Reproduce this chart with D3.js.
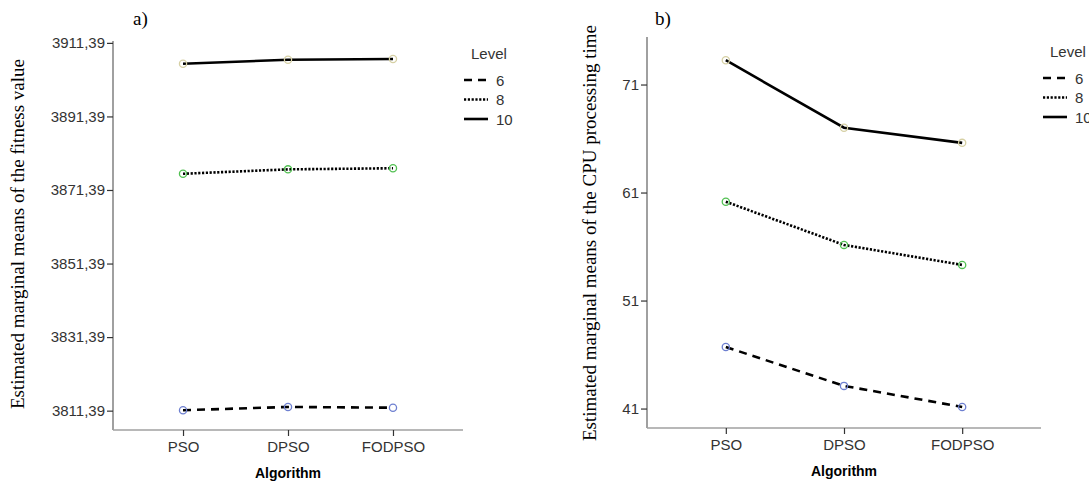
<!DOCTYPE html>
<meta charset="utf-8">
<style>
body { margin: 0; background: #fff; }
.tick text, .legend text { font-family: "Liberation Sans", Arial, sans-serif; fill: #333; }
.ytitle { font-family: "Liberation Serif", "Times New Roman", serif; font-size: 19px; fill: #000; }
.panel { font-family: "Liberation Serif", "Times New Roman", serif; font-size: 19px; fill: #000; }
.xtitle { font-family: "Liberation Sans", Arial, sans-serif; font-size: 14px; font-weight: bold; fill: #000; }
</style>
<svg width="1089" height="482"></svg>
<script src="https://d3js.org/d3.v7.min.js"></script>
<script>

var algorithms = ["PSO", "DPSO", "FODPSO"];
var levels = ["6", "8", "10"];

// a) fitness value, one array per level (PSO, DPSO, FODPSO)
var fitness6  = [3811.5, 3812.4, 3812.2];
var fitness8  = [3875.8, 3877.0, 3877.3];
var fitness10 = [3905.7, 3906.8, 3907.0];
var fitnessTicks = [3811.39, 3831.39, 3851.39, 3871.39, 3891.39, 3911.39];

// b) CPU processing time
var cpu6  = [46.7, 43.1, 41.15];
var cpu8  = [60.15, 56.15, 54.3];
var cpu10 = [73.25, 67.0, 65.6];
var cpuTicks = [41, 51, 61, 71];

var dashes = {"6": "8,6", "8": "2.2,1.6", "10": null};
var markerColor = {"6": "#6d7fd0", "8": "#52c052", "10": "#d6d0a4"};

var svg = d3.select("svg");

function drawPanel(opt) {
  var x = d3.scalePoint().domain(algorithms).range([opt.x0, opt.x1]).padding(0.667);
  var y = d3.scaleLinear().domain(opt.domain).range([opt.y1, opt.y0]);

  // y axis
  var yAxis = svg.append("g").attr("transform", "translate(" + opt.x0 + ",0)")
    .call(d3.axisLeft(y).tickValues(opt.ticks).tickSize(6).tickPadding(2)
      .tickFormat(opt.fmt));
  yAxis.select(".domain").attr("stroke", "#a0a0a0").attr("stroke-width", 2).attr("d", "M0," + opt.y0 + "V" + opt.y1);
  yAxis.selectAll(".tick line").attr("stroke", "#333").attr("stroke-width", 1.2);
  yAxis.selectAll(".tick text").attr("font-size", 15);

  // x axis
  var xAxis = svg.append("g").attr("transform", "translate(0," + opt.y1 + ")")
    .call(d3.axisBottom(x).tickSize(6).tickPadding(5));
  xAxis.select(".domain").attr("stroke", "#a0a0a0").attr("stroke-width", 1.5).attr("d", "M" + opt.x0 + ",0H" + opt.x1);
  xAxis.selectAll(".tick line").attr("stroke", "#333").attr("stroke-width", 1.2);
  xAxis.selectAll(".tick text").attr("font-size", 15);

  var line = d3.line().x(function(d, i) { return x(algorithms[i]); }).y(function(d) { return y(d); });

  opt.series.forEach(function(vals, k) {
    var lev = levels[k];
    svg.append("path").datum(vals)
      .attr("d", line)
      .attr("fill", "none")
      .attr("stroke", "#000")
      .attr("stroke-width", 2.6)
      .attr("stroke-dasharray", dashes[lev]);
    svg.append("g").selectAll("circle").data(vals).enter().append("circle")
      .attr("cx", function(d, i) { return x(algorithms[i]); })
      .attr("cy", function(d) { return y(d); })
      .attr("r", 3.6)
      .attr("fill", "none")
      .attr("stroke", markerColor[lev])
      .attr("stroke-width", 1.3);
  });

  // titles
  svg.append("text").attr("class", "xtitle")
    .attr("x", (opt.x0 + opt.x1) / 2).attr("y", opt.y1 + 48)
    .attr("text-anchor", "middle").text("Algorithm");
  svg.append("text").attr("class", "ytitle")
    .attr("transform", "translate(" + opt.ytx + "," + opt.yty + ") rotate(-90)")
    .attr("text-anchor", "middle").text(opt.ytitle);
  svg.append("text").attr("class", "panel")
    .attr("x", opt.px).attr("y", 25).text(opt.panel);

  // legend
  var lg = svg.append("g").attr("class", "legend");
  lg.append("text").attr("x", opt.lx + 7).attr("y", opt.ly).attr("font-size", 15).text("Level");
  levels.forEach(function(lev, k) {
    var yy = opt.ly + 21 + k * 19.5;
    lg.append("line").attr("x1", opt.lx).attr("x2", opt.lx + 24)
      .attr("y1", yy).attr("y2", yy)
      .attr("stroke", "#000").attr("stroke-width", 2.6)
      .attr("stroke-dasharray", dashes[lev]);
    lg.append("text").attr("x", opt.lx + 32).attr("y", yy + 5.5).attr("font-size", 15).text(lev);
  });
}

drawPanel({
  x0: 113, x1: 463, y0: 41, y1: 430,
  domain: [3806.13, 3911.9],
  ticks: fitnessTicks,
  fmt: function(d) { return d3.format(".2f")(d).replace(".", ","); },
  series: [fitness6, fitness8, fitness10],
  ytitle: "Estimated marginal means of the fitness value",
  ytx: 24, yty: 234,
  panel: "a)", px: 133,
  lx: 464, ly: 59
});

drawPanel({
  x0: 647, x1: 1041, y0: 37, y1: 428,
  domain: [39.2, 75.4],
  ticks: cpuTicks,
  fmt: d3.format("d"),
  series: [cpu6, cpu8, cpu10],
  ytitle: "Estimated marginal means of the CPU processing time",
  ytx: 596, yty: 233,
  panel: "b)", px: 655,
  lx: 1043, ly: 57
});

</script>
